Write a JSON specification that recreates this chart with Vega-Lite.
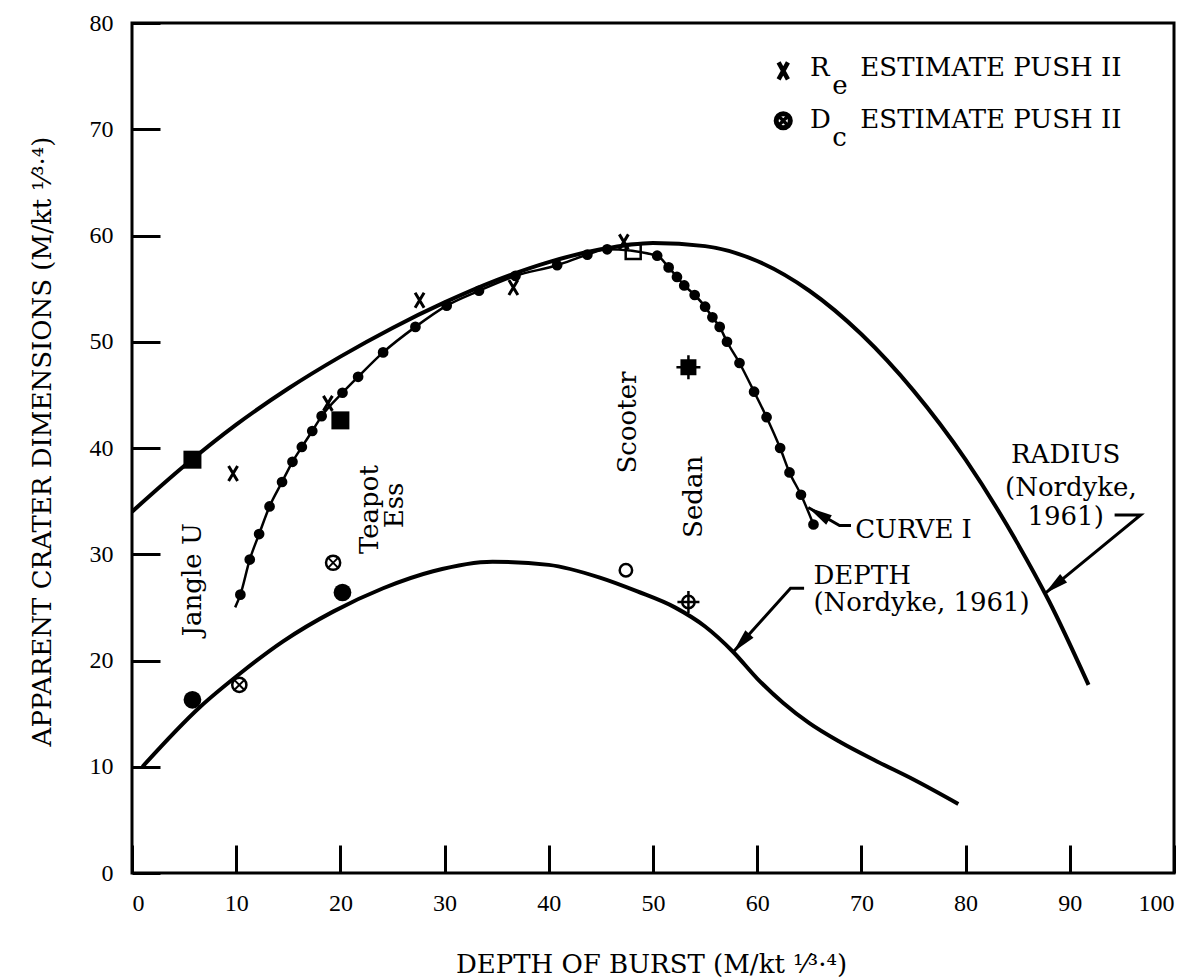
{
  "$schema": "https://vega.github.io/schema/vega-lite/v6.json",
  "width": 1042,
  "height": 850,
  "autosize": {"type": "none"},
  "padding": {"left": 132, "top": 23, "right": 13, "bottom": 105},
  "background": "white",
  "datasets": {
    "radius": [
      {"x": 0, "y": 34.0}, {"x": 5, "y": 38.3}, {"x": 10, "y": 42.2}, {"x": 15, "y": 45.6},
      {"x": 20, "y": 48.6}, {"x": 25, "y": 51.3}, {"x": 30, "y": 53.7}, {"x": 35, "y": 55.8},
      {"x": 40, "y": 57.5}, {"x": 45, "y": 58.7}, {"x": 50, "y": 59.3}, {"x": 55, "y": 59.0},
      {"x": 60, "y": 57.6}, {"x": 65, "y": 54.8}, {"x": 70, "y": 50.7}, {"x": 75, "y": 45.4},
      {"x": 80, "y": 38.9}, {"x": 85, "y": 31.0}, {"x": 88, "y": 25.6}, {"x": 91.8, "y": 17.7}
    ],
    "depth": [
      {"x": 1.0, "y": 10.0}, {"x": 6.5, "y": 15.6}, {"x": 10.4, "y": 18.8}, {"x": 14.5, "y": 21.8},
      {"x": 19.3, "y": 24.6}, {"x": 24.1, "y": 26.8}, {"x": 28.9, "y": 28.4}, {"x": 34.6, "y": 29.3},
      {"x": 40, "y": 29.0}, {"x": 44.9, "y": 27.8}, {"x": 48.5, "y": 26.5}, {"x": 52.1, "y": 25.0},
      {"x": 55.0, "y": 23.2}, {"x": 57.7, "y": 20.8}, {"x": 60.0, "y": 18.3}, {"x": 62.5, "y": 16.0},
      {"x": 65, "y": 14.1}, {"x": 68, "y": 12.3}, {"x": 71.5, "y": 10.5}, {"x": 75, "y": 8.8},
      {"x": 79.3, "y": 6.5}
    ],
    "curve1": [
      {"x": 9.9, "y": 25.0, "kind": "tail"},
      {"x": 10.4, "y": 26.2, "kind": "dot"}, {"x": 11.3, "y": 29.5, "kind": "dot"}, {"x": 12.2, "y": 31.9, "kind": "dot"},
      {"x": 13.2, "y": 34.5, "kind": "dot"}, {"x": 14.4, "y": 36.8, "kind": "dot"}, {"x": 15.4, "y": 38.7, "kind": "dot"},
      {"x": 16.3, "y": 40.1, "kind": "dot"}, {"x": 17.3, "y": 41.6, "kind": "dot"}, {"x": 18.2, "y": 43.0, "kind": "dot"},
      {"x": 20.2, "y": 45.2, "kind": "dot"}, {"x": 21.7, "y": 46.7, "kind": "dot"}, {"x": 24.1, "y": 49.0, "kind": "dot"},
      {"x": 27.2, "y": 51.4, "kind": "dot"}, {"x": 30.2, "y": 53.4, "kind": "dot"}, {"x": 33.3, "y": 54.8, "kind": "dot"},
      {"x": 36.8, "y": 56.2, "kind": "dot"}, {"x": 40.8, "y": 57.2, "kind": "dot"}, {"x": 43.7, "y": 58.2, "kind": "dot"},
      {"x": 45.6, "y": 58.7, "kind": "dot"}, {"x": 50.4, "y": 58.1, "kind": "dot"}, {"x": 51.5, "y": 57.0, "kind": "dot"},
      {"x": 52.3, "y": 56.1, "kind": "dot"}, {"x": 53.0, "y": 55.3, "kind": "dot"}, {"x": 54.0, "y": 54.4, "kind": "dot"},
      {"x": 55.0, "y": 53.3, "kind": "dot"}, {"x": 55.7, "y": 52.3, "kind": "dot"}, {"x": 56.4, "y": 51.4, "kind": "dot"},
      {"x": 57.1, "y": 50.0, "kind": "dot"}, {"x": 58.3, "y": 48.0, "kind": "dot"}, {"x": 59.7, "y": 45.3, "kind": "dot"},
      {"x": 60.9, "y": 42.9, "kind": "dot"}, {"x": 62.2, "y": 40.0, "kind": "dot"}, {"x": 63.1, "y": 37.7, "kind": "dot"},
      {"x": 64.2, "y": 35.6, "kind": "dot"}, {"x": 65.4, "y": 32.8, "kind": "dot"}
    ],
    "markers": [
      {"x": 9.7, "y": 37.6, "kind": "X"},
      {"x": 18.8, "y": 44.2, "kind": "X"},
      {"x": 27.6, "y": 53.9, "kind": "X"},
      {"x": 36.6, "y": 55.1, "kind": "X"},
      {"x": 47.2, "y": 59.4, "kind": "X"},
      {"x": 62.5, "y": 75.5, "kind": "legX"},
      {"x": 10.3, "y": 17.7, "kind": "Ox"},
      {"x": 19.3, "y": 29.2, "kind": "Ox"},
      {"x": 62.5, "y": 70.8, "kind": "legOx"},
      {"x": 5.8, "y": 38.9, "kind": "sq"},
      {"x": 20.0, "y": 42.6, "kind": "sq"},
      {"x": 53.4, "y": 47.6, "kind": "sqcross"},
      {"x": 48.1, "y": 58.5, "kind": "opensq"},
      {"x": 5.8, "y": 16.3, "kind": "dot"},
      {"x": 20.2, "y": 26.4, "kind": "dot"},
      {"x": 47.4, "y": 28.5, "kind": "opencircle"},
      {"x": 53.4, "y": 25.5, "kind": "circross"}
    ],
    "leaders": [
      {"id": "curve", "o": 1, "x": 69.0, "y": 32.7},
      {"id": "curve", "o": 2, "x": 67.9, "y": 32.7},
      {"id": "curve", "o": 3, "x": 64.9, "y": 34.4},
      {"id": "depth", "o": 1, "x": 64.5, "y": 26.8},
      {"id": "depth", "o": 2, "x": 63.2, "y": 26.8},
      {"id": "depth", "o": 3, "x": 57.7, "y": 20.8},
      {"id": "radius", "o": 1, "x": 94.3, "y": 33.7},
      {"id": "radius", "o": 2, "x": 96.8, "y": 33.7},
      {"id": "radius", "o": 3, "x": 87.6, "y": 26.3}
    ],
    "tips": [
      {"id": "curve", "x": 64.9, "y": 34.4},
      {"id": "depth", "x": 57.7, "y": 20.8},
      {"id": "radius", "x": 87.6, "y": 26.3}
    ],
    "labels": [
      {"x": 5.85, "y": 27.6, "label": "Jangle U", "grp": "rot"},
      {"x": 22.8, "y": 34.2, "label": "Teapot", "grp": "rot"},
      {"x": 25.2, "y": 34.6, "label": "Ess", "grp": "rot"},
      {"x": 47.6, "y": 42.4, "label": "Scooter", "grp": "rot"},
      {"x": 53.9, "y": 35.4, "label": "Sedan", "grp": "rot"},
      {"x": 69.4, "y": 32.3, "label": "CURVE I", "grp": "left"},
      {"x": 65.4, "y": 27.95, "label": "DEPTH", "grp": "left"},
      {"x": 65.4, "y": 25.4, "label": "(Nordyke, 1961)", "grp": "left"},
      {"x": 89.6, "y": 39.3, "label": "RADIUS", "grp": "center"},
      {"x": 90.1, "y": 36.2, "label": "(Nordyke,", "grp": "center"},
      {"x": 89.6, "y": 33.5, "label": "1961)", "grp": "center"},
      {"x": 65.07, "y": 75.8, "label": "R", "grp": "left"},
      {"x": 67.2, "y": 74.1, "label": "e", "grp": "left"},
      {"x": 69.9, "y": 75.8, "label": "ESTIMATE PUSH II", "grp": "left"},
      {"x": 65.07, "y": 70.9, "label": "D", "grp": "left"},
      {"x": 67.2, "y": 69.2, "label": "c", "grp": "left"},
      {"x": 69.9, "y": 70.9, "label": "ESTIMATE PUSH II", "grp": "left"}
    ]
  },
  "encoding": {
    "x": {
      "field": "x", "type": "quantitative",
      "scale": {"domain": [0, 100], "nice": false, "zero": false},
      "axis": {
        "values": [0, 10, 20, 30, 40, 50, 60, 70, 80, 90, 100],
        "tickSize": -28, "labelPadding": 46,
        "title": "DEPTH OF BURST (M/kt ¹⁄³·⁴)",
        "titleX": 519, "titleY": 99, "titleBaseline": "alphabetic", "titleAlign": "center"
      }
    },
    "y": {
      "field": "y", "type": "quantitative",
      "scale": {"domain": [0, 80], "nice": false, "zero": false},
      "axis": {
        "values": [0, 10, 20, 30, 40, 50, 60, 70, 80],
        "tickSize": -28, "labelPadding": 47,
        "title": "APPARENT CRATER DIMENSIONS (M/kt ¹⁄³·⁴)",
        "titleX": -82, "titleY": 418, "titleAngle": 270, "titleBaseline": "alphabetic", "titleAlign": "center"
      }
    }
  },
  "layer": [
    {"data": {"name": "radius"}, "mark": {"type": "line", "color": "black", "strokeWidth": 4, "interpolate": "monotone", "clip": true}},
    {"data": {"name": "depth"}, "mark": {"type": "line", "color": "black", "strokeWidth": 4, "interpolate": "monotone", "clip": true}},
    {"data": {"name": "curve1"}, "mark": {"type": "line", "color": "black", "strokeWidth": 2.5, "interpolate": "monotone"}},
    {"data": {"name": "curve1"}, "transform": [{"filter": {"field": "kind", "equal": "dot"}}],
     "mark": {"type": "point", "shape": "circle", "filled": true, "color": "black", "size": 115, "opacity": 1}},
    {"data": {"name": "leaders"}, "mark": {"type": "line", "color": "black", "strokeWidth": 3},
     "encoding": {"detail": {"field": "id"}, "order": {"field": "o"}}},
    {"data": {"name": "tips"}, "transform": [{"filter": {"field": "id", "equal": "curve"}}],
     "mark": {"type": "point", "shape": "M0,0L0.5,2.2L-0.5,2.2Z", "filled": true, "color": "black", "size": 484, "angle": 301, "opacity": 1}},
    {"data": {"name": "tips"}, "transform": [{"filter": {"field": "id", "equal": "depth"}}],
     "mark": {"type": "point", "shape": "M0,0L0.5,2.2L-0.5,2.2Z", "filled": true, "color": "black", "size": 484, "angle": 222, "opacity": 1}},
    {"data": {"name": "tips"}, "transform": [{"filter": {"field": "id", "equal": "radius"}}],
     "mark": {"type": "point", "shape": "M0,0L0.5,2.2L-0.5,2.2Z", "filled": true, "color": "black", "size": 484, "angle": 231, "opacity": 1}},
    {"data": {"name": "markers"}, "transform": [{"filter": {"field": "kind", "equal": "X"}}],
     "mark": {"type": "point", "shape": "M-0.6,-1L0.6,1M0.6,-1L-0.6,1", "filled": false, "color": "black", "size": 225, "strokeWidth": 3, "opacity": 1}},
    {"data": {"name": "markers"}, "transform": [{"filter": {"field": "kind", "equal": "legX"}}],
     "mark": {"type": "point", "shape": "M-0.55,-1L0.55,1M0.55,-1L-0.55,1", "filled": false, "color": "black", "size": 289, "strokeWidth": 4.5, "opacity": 1}},
    {"data": {"name": "markers"}, "transform": [{"filter": {"field": "kind", "equal": "Ox"}}],
     "mark": {"type": "point", "shape": "circle", "filled": false, "color": "black", "size": 201, "strokeWidth": 2.5, "opacity": 1}},
    {"data": {"name": "markers"}, "transform": [{"filter": {"field": "kind", "equal": "Ox"}}],
     "mark": {"type": "point", "shape": "M-0.7,-0.7L0.7,0.7M0.7,-0.7L-0.7,0.7", "filled": false, "color": "black", "size": 256, "strokeWidth": 2, "opacity": 1}},
    {"data": {"name": "markers"}, "transform": [{"filter": {"field": "kind", "equal": "legOx"}}],
     "mark": {"type": "point", "shape": "circle", "filled": false, "color": "black", "size": 200, "strokeWidth": 5, "opacity": 1}},
    {"data": {"name": "markers"}, "transform": [{"filter": {"field": "kind", "equal": "legOx"}}],
     "mark": {"type": "point", "shape": "M-0.7,-0.7L0.7,0.7M0.7,-0.7L-0.7,0.7", "filled": false, "color": "black", "size": 225, "strokeWidth": 3.5, "opacity": 1}},
    {"data": {"name": "markers"}, "transform": [{"filter": {"field": "kind", "equal": "sq"}}],
     "mark": {"type": "point", "shape": "square", "filled": true, "color": "black", "size": 324, "opacity": 1}},
    {"data": {"name": "markers"}, "transform": [{"filter": {"field": "kind", "equal": "sqcross"}}],
     "mark": {"type": "point", "shape": "square", "filled": true, "color": "black", "size": 256, "opacity": 1}},
    {"data": {"name": "markers"}, "transform": [{"filter": {"field": "kind", "equal": "sqcross"}}],
     "mark": {"type": "point", "shape": "M-1,0L-0.5,0M0.5,0L1,0M0,-1L0,-0.5M0,0.5L0,1", "filled": false, "color": "black", "size": 576, "strokeWidth": 2.5, "opacity": 1}},
    {"data": {"name": "markers"}, "transform": [{"filter": {"field": "kind", "equal": "opensq"}}],
     "mark": {"type": "point", "shape": "square", "filled": false, "color": "black", "size": 225, "strokeWidth": 2.5, "opacity": 1}},
    {"data": {"name": "markers"}, "transform": [{"filter": {"field": "kind", "equal": "dot"}}],
     "mark": {"type": "point", "shape": "circle", "filled": true, "color": "black", "size": 314, "opacity": 1}},
    {"data": {"name": "markers"}, "transform": [{"filter": {"field": "kind", "equal": "opencircle"}}],
     "mark": {"type": "point", "shape": "circle", "filled": false, "color": "black", "size": 154, "strokeWidth": 2.5, "opacity": 1}},
    {"data": {"name": "markers"}, "transform": [{"filter": {"field": "kind", "equal": "circross"}}],
     "mark": {"type": "point", "shape": "circle", "filled": false, "color": "black", "size": 154, "strokeWidth": 2.5, "opacity": 1}},
    {"data": {"name": "markers"}, "transform": [{"filter": {"field": "kind", "equal": "circross"}}],
     "mark": {"type": "point", "shape": "M-1,0L1,0M0,-1L0,1", "filled": false, "color": "black", "size": 484, "strokeWidth": 2.5, "opacity": 1}},
    {"data": {"name": "labels"}, "transform": [{"filter": {"field": "grp", "equal": "rot"}}],
     "mark": {"type": "text", "font": "DejaVu Serif", "fontSize": 26, "color": "black", "angle": 270, "align": "center", "baseline": "middle"},
     "encoding": {"text": {"field": "label"}}},
    {"data": {"name": "labels"}, "transform": [{"filter": {"field": "grp", "equal": "left"}}],
     "mark": {"type": "text", "font": "DejaVu Serif", "fontSize": 26, "color": "black", "align": "left", "baseline": "middle"},
     "encoding": {"text": {"field": "label"}}},
    {"data": {"name": "labels"}, "transform": [{"filter": {"field": "grp", "equal": "center"}}],
     "mark": {"type": "text", "font": "DejaVu Serif", "fontSize": 26, "color": "black", "align": "center", "baseline": "middle"},
     "encoding": {"text": {"field": "label"}}}
  ],
  "config": {
    "view": {"stroke": "black", "strokeWidth": 3},
    "axis": {
      "grid": false, "domain": false, "ticks": true, "tickWidth": 3, "tickColor": "black",
      "labelFont": "Liberation Serif", "labelFontSize": 24, "labelColor": "black",
      "titleFont": "DejaVu Serif", "titleFontSize": 26, "titleFontWeight": "normal", "titleColor": "black"
    }
  }
}
